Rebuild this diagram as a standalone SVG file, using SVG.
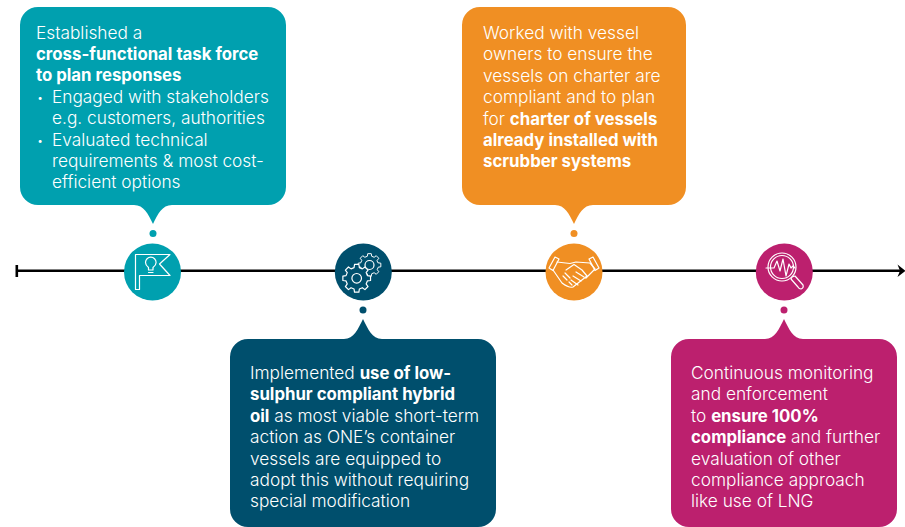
<svg xmlns="http://www.w3.org/2000/svg" width="905" height="527" viewBox="0 0 905 527">
<style>
.t{font-family:"Inter","Open Sans","Liberation Sans",sans-serif;font-size:17.3px;fill:#fff;font-weight:300}
.t tspan.b,.b{font-weight:700;font-size:16.8px}
.d{font-size:11px}
.ic{fill:none;stroke:#fff;stroke-width:1.200;stroke-linejoin:round;stroke-linecap:round}
</style>
<defs>
<path id="gear" d="M10.67-2.66L13.83-2.19L13.83 2.19L10.67 2.66L9.43 5.67L11.33 8.23L8.23 11.33L5.67 9.43L2.66 10.67L2.19 13.83L-2.19 13.83L-2.66 10.67L-5.67 9.43L-8.23 11.33L-11.33 8.23L-9.43 5.67L-10.67 2.66L-13.83 2.19L-13.83-2.19L-10.67-2.66L-9.43-5.67L-11.33-8.23L-8.23-11.33L-5.67-9.43L-2.66-10.67L-2.19-13.83L2.19-13.83L2.66-10.67L5.67-9.43L8.23-11.33L11.33-8.23L9.43-5.67Z"/>
</defs>
<rect width="905" height="527" fill="#fff"/>
<g id="connectors">
<path d="M17 270.800H902" stroke="#000" stroke-width="2.600" fill="none"/>
<path d="M16.800 265V277" stroke="#000" stroke-width="2.600" fill="none"/>
<path d="M897.500 264.500L905.500 270.800L897.500 277L900 270.800Z" fill="#000"/>
</g>
<g id="node-1">
<path fill="#00a0af" d="M38 7H268A18 18 0 0 1 286 25V187A18 18 0 0 1 268 205H172C162 205 158 214 153 224C148 214 144 205 134 205H38A18 18 0 0 1 20 187V25A18 18 0 0 1 38 7Z"/>
<circle cx="153" cy="233.500" r="3.500" fill="#00a0af"/>
<circle cx="152.500" cy="272" r="28.500" fill="#00a0af"/>
<path class="ic" d="M135.500 254.500H170L159.500 264L170 275.500H139.500V289.500H135.500Z"/>
<path class="ic" d="M148.500 270V267.500C146.500 266 145.500 264.500 145.500 262.500A5.300 5.300 0 0 1 156.100 262.500C156.100 264.500 155.100 266 153 267.500V270M148.500 270H153M148.500 272.500H153"/>
<text class="t" x="36" y="39">Established a</text>
<text class="t b" x="36" y="60">cross-functional task force</text>
<text class="t b" x="36" y="81">to plan responses</text>
<text class="t d" x="37" y="102">•</text>
<text class="t" x="52" y="103">Engaged with stakeholders</text>
<text class="t" x="52" y="124">e.g. customers, authorities</text>
<text class="t d" x="37" y="145">•</text>
<text class="t" x="52" y="146">Evaluated technical</text>
<text class="t" x="52" y="167">requirements &amp; most cost-</text>
<text class="t" x="52" y="188">efficient options</text>
</g>
<g id="node-2">
<path fill="#004f6d" d="M248 339H344C354 339 358 329 363 319C368 329 372 339 382 339H478A18 18 0 0 1 496 357V509A18 18 0 0 1 478 527H248A18 18 0 0 1 230 509V357A18 18 0 0 1 248 339Z"/>
<circle cx="363" cy="310" r="3.500" fill="#004f6d"/>
<circle cx="363.300" cy="272" r="28.500" fill="#004f6d"/>
<use href="#gear" class="ic" transform="translate(369.500 265) scale(.82)" fill="none"/>
<circle class="ic" cx="369.500" cy="265" r="4.500"/>
<use href="#gear" transform="translate(356.700 278.300)" fill="#004f6d" stroke="#fff" stroke-width="1.200" stroke-linejoin="round"/>
<circle class="ic" cx="356.700" cy="278.300" r="4.800"/>
<text class="t" x="250" y="379">Implemented <tspan class="b">use of low-</tspan></text>
<text class="t b" x="250" y="400">sulphur compliant hybrid</text>
<text class="t" x="250" y="422"><tspan class="b">oil</tspan> as most viable short-term</text>
<text class="t" x="250" y="443">action as ONE’s container</text>
<text class="t" x="250" y="465">vessels are equipped to</text>
<text class="t" x="250" y="486">adopt this without requiring</text>
<text class="t" x="250" y="507">special modification</text>
</g>
<g id="node-3">
<path fill="#f08f23" d="M480 7H668A18 18 0 0 1 686 25V187A18 18 0 0 1 668 205H593C583 205 579 214 574 224C569 214 565 205 555 205H480A18 18 0 0 1 462 187V25A18 18 0 0 1 480 7Z"/>
<circle cx="574" cy="233.500" r="3.500" fill="#f08f23"/>
<circle cx="574" cy="272" r="28.500" fill="#f08f23"/>
<path class="ic" d="M549 268L555 257L559 259L553 270.500ZM599 268L593 257L589 259L595 270.500Z"/>
<path class="ic" d="M557 262L570 263.500L576 262L590 263M590 263L595 269L586 278M566 270L574 264.500L582 270L587 276L573 287C570 288 566 286 562 283L553 270"/>
<path class="ic" d="M563 276L567 280M565 273L570 278M569 282L572 285M576 272L584 277M573 276L581 281M571 280L578 285" stroke-width="2"/>
<text class="t" x="483" y="39">Worked with vessel</text>
<text class="t" x="483" y="60">owners to ensure the</text>
<text class="t" x="483" y="82">vessels on charter are</text>
<text class="t" x="483" y="103">compliant and to plan</text>
<text class="t" x="483" y="125">for <tspan class="b">charter of vessels</tspan></text>
<text class="t b" x="483" y="146">already installed with</text>
<text class="t b" x="483" y="167">scrubber systems</text>
</g>
<g id="node-4">
<path fill="#bc206e" d="M689 339H765C775 339 779 329 784 319C789 329 793 339 803 339H879A18 18 0 0 1 897 357V509A18 18 0 0 1 879 527H689A18 18 0 0 1 671 509V357A18 18 0 0 1 689 339Z"/>
<circle cx="784" cy="310" r="3.500" fill="#bc206e"/>
<circle cx="784.300" cy="272" r="28.500" fill="#bc206e"/>
<circle class="ic" cx="782" cy="267" r="14"/>
<circle class="ic" cx="782" cy="267" r="11.500"/>
<path class="ic" d="M766 268H774L777 261L780 271L783 259L786 276L789 264L791 268L793 266L795 268"/>
<path class="ic" d="M792 277L795 276L803 285Q804 288 801 289Q799 289 798 287L791 279Z"/>
<text class="t" x="691" y="379">Continuous monitoring</text>
<text class="t" x="691" y="400">and enforcement</text>
<text class="t" x="691" y="422">to <tspan class="b">ensure 100%</tspan></text>
<text class="t" x="691" y="443"><tspan class="b">compliance</tspan> and further</text>
<text class="t" x="691" y="465">evaluation of other</text>
<text class="t" x="691" y="486">compliance approach</text>
<text class="t" x="691" y="507">like use of LNG</text>
</g>
</svg>
